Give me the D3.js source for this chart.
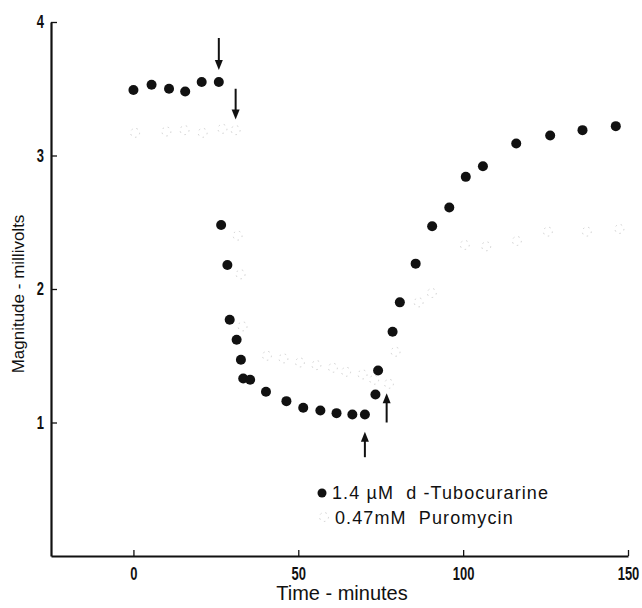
<!DOCTYPE html>
<html>
<head>
<meta charset="utf-8">
<script src="https://cdn.jsdelivr.net/npm/d3@7"></script>
<style>
  body { margin: 0; background: #fff; }
  .title { font-family: "Liberation Sans", Arial, sans-serif; fill: #111; }
</style>
</head>
<body>
<svg id="chart" width="642" height="608"></svg>
<script>
// d-Tubocurarine (filled dots): time in minutes, magnitude in mV
const tuboTime = [0, 5.5, 10.8, 15.7, 20.7, 25.9, 26.6, 28.5, 29.2, 31.3, 32.6, 33.3, 35.4, 40.2, 46.4, 51.5, 56.7, 61.6, 66.4, 70.2, 73.4, 74.2, 78.6, 80.8, 85.6, 90.6, 95.8, 100.8, 106, 116.1, 126.4, 136.2, 146.3];
const tuboValue = [3.49, 3.53, 3.50, 3.48, 3.55, 3.55, 2.48, 2.18, 1.77, 1.62, 1.47, 1.33, 1.32, 1.23, 1.16, 1.11, 1.09, 1.07, 1.06, 1.06, 1.21, 1.39, 1.68, 1.90, 2.19, 2.47, 2.61, 2.84, 2.92, 3.09, 3.15, 3.19, 3.22];

// Puromycin (faint open circles)
const puroTime = [0.5, 10, 15.5, 21, 27, 31, 31.6, 32.5, 33.1, 40.5, 45.5, 50.5, 55.5, 60.5, 64.5, 69.5, 73, 77.5, 79.5, 86.5, 90.5, 100.5, 107, 116.3, 125.7, 137.5, 147.4];
const puroValue = [3.17, 3.18, 3.19, 3.17, 3.20, 3.19, 2.40, 2.11, 1.72, 1.50, 1.48, 1.45, 1.43, 1.41, 1.38, 1.36, 1.32, 1.29, 1.53, 1.90, 1.97, 2.33, 2.32, 2.36, 2.43, 2.43, 2.45];

// arrows marking drug application / washout: [time, tail value, tip value]
const arrows = [[25.9, 3.88, 3.64], [31, 3.50, 3.27], [70.2, 0.74, 0.93], [76.8, 1.00, 1.22]];

const xTicks = [0, 50, 100, 150];
const yTicks = [1, 2, 3, 4];
const legendLabels = ['1.4 \u00b5M  d -Tubocurarine', '0.47mM  Puromycin'];

const svg = d3.select('#chart');
const x = d3.scaleLinear().domain([-25, 150]).range([51, 628]);
const y = d3.scaleLinear().domain([0, 4]).range([556, 22]);

const xAxis = svg.append('g')
  .attr('transform', 'translate(0,556)')
  .call(d3.axisBottom(x).tickValues(xTicks).tickFormat(d3.format('d'))
    .tickSizeInner(-6).tickSizeOuter(0).tickPadding(0));
const yAxis = svg.append('g')
  .attr('transform', 'translate(51,0)')
  .call(d3.axisLeft(y).tickValues(yTicks).tickFormat(d3.format('d'))
    .tickSizeInner(-6).tickSizeOuter(0).tickPadding(7));
[xAxis, yAxis].forEach(g => {
  g.select('.domain').attr('stroke', '#111').attr('stroke-width', 2.2);
  g.selectAll('.tick line').attr('stroke', '#111').attr('stroke-width', 1.3);
  g.selectAll('.tick text').attr('fill', '#111')
    .style('font-family', '"Liberation Sans", Arial, sans-serif')
    .style('font-size', '18px').style('font-weight', 'bold');
});
// squeeze digits to look like the narrow bold face of the original
xAxis.selectAll('.tick text').attr('y', 24).attr('dy', null).attr('transform', 'scale(0.72,1)');
yAxis.selectAll('.tick text').attr('x', -7 / 0.72).attr('transform', 'scale(0.72,1)');

svg.append('text').attr('class', 'title')
  .attr('x', 342).attr('y', 600).attr('text-anchor', 'middle')
  .style('font-size', '20px').text('Time - minutes');
svg.append('text').attr('class', 'title')
  .attr('transform', 'translate(24,294) rotate(-90)').attr('text-anchor', 'middle')
  .style('font-size', '17px').text('Magnitude - millivolts');

// faint open circles
svg.append('g').selectAll('circle')
  .data(puroTime.map((t, i) => [t, puroValue[i]]))
  .join('circle')
  .attr('cx', d => x(d[0])).attr('cy', d => y(d[1])).attr('r', 4.5)
  .attr('fill', 'none').attr('stroke', '#cfcfcf').attr('stroke-width', 1)
  .attr('stroke-dasharray', '1.5,4');

svg.append('g').selectAll('circle')
  .data(tuboTime.map((t, i) => [t, tuboValue[i]]))
  .join('circle')
  .attr('cx', d => x(d[0])).attr('cy', d => y(d[1])).attr('r', 5)
  .attr('fill', '#111');

// arrows
const ag = svg.append('g');
arrows.forEach(([t, v0, v1]) => {
  const px = x(t), y0 = y(v0), y1 = y(v1);
  const dir = y1 > y0 ? 1 : -1;
  ag.append('line').attr('x1', px).attr('x2', px).attr('y1', y0).attr('y2', y1 - dir * 8)
    .attr('stroke', '#111').attr('stroke-width', 2);
  ag.append('path')
    .attr('d', `M${px - 4},${y1 - dir * 10}L${px + 4},${y1 - dir * 10}L${px},${y1}Z`)
    .attr('fill', '#111');
});

// legend
const lg = svg.append('g');
lg.append('circle').attr('cx', 322).attr('cy', 493).attr('r', 4.5).attr('fill', '#111');
lg.append('circle').attr('cx', 324).attr('cy', 517).attr('r', 4.5)
  .attr('fill', 'none').attr('stroke', '#cfcfcf').attr('stroke-dasharray', '1.5,4');
lg.selectAll('text').data(legendLabels).join('text').attr('class', 'title')
  .attr('x', (d, i) => i ? 335 : 332).attr('y', (d, i) => 499 + i * 25)
  .style('font-size', '18px').style('white-space', 'pre').style('letter-spacing', '1.1px')
  .text(d => d);
</script>
</body>
</html>
